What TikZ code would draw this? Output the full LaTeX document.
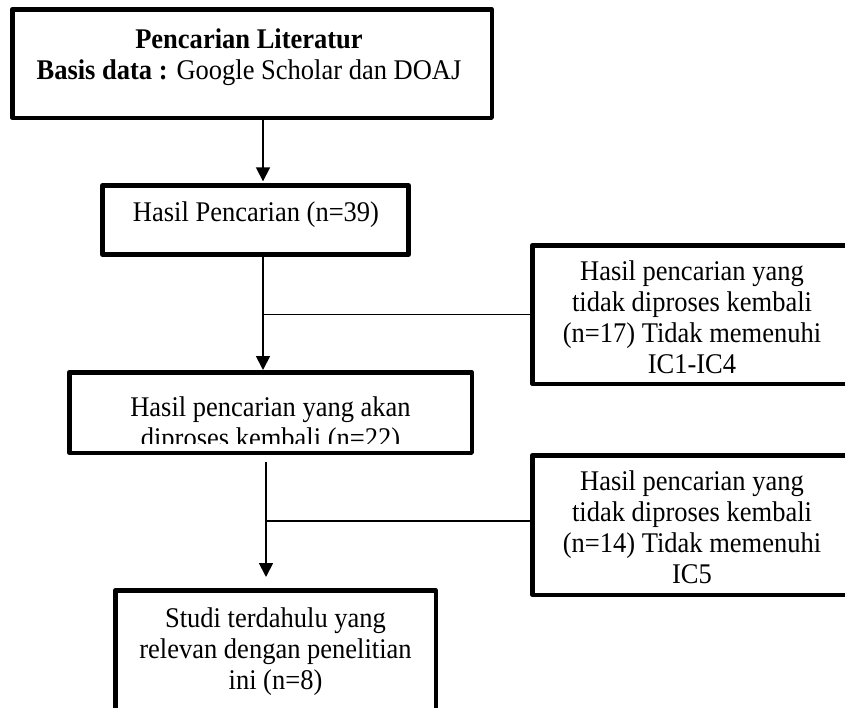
\documentclass[tikz,border=0pt]{standalone}
\usepackage{fontspec}
\setmainfont[FakeStretch=0.93]{Liberation Serif}
\usetikzlibrary{arrows.meta}
\tikzset{
  frame/.style={draw=black, line width=4.5pt, line join=round, inner sep=0pt, rectangle},
  txt/.style={inner sep=0pt, anchor=north, align=center, font=\fontsize{28.5pt}{31pt}\selectfont},
  link/.style={draw=black, line width=1.8pt},
  arrowlink/.style={link, -{Triangle[width=14pt,length=14pt]}}
}
\begin{document}
\begin{tikzpicture}[x=1pt,y=-1pt]
\useasboundingbox (0,0) rectangle (845,707);
\clip (0,0) rectangle (845,707);
\fill[white] (0,0) rectangle (845,707);

% frames
\node[frame, minimum width=479.5pt, minimum height=108.5pt] (b1) at (252,63.5) {};
\node[frame, minimum width=306.2pt, minimum height=68.9pt] (b2) at (255.35,220) {};
\node[frame, minimum width=402.5pt, minimum height=80.5pt] (b3) at (270.5,412.5) {};
\node[frame, minimum width=320.5pt, minimum height=138.5pt] (rb1) at (692.5,314.5) {};
\node[frame, minimum width=320.5pt, minimum height=139.5pt] (rb2) at (692.5,525) {};
\node[frame, minimum width=320.5pt, minimum height=121.5pt] (b4) at (275.5,651) {};

% texts
\node[txt] (t1) at (249,26.3) {\strut\textbf{Pencarian Literatur}\\\strut\textbf{Basis data :} Google Scholar dan DOAJ};
\node[txt] (t2) at (256,199.3) {\strut Hasil Pencarian (n=39)};
\begin{scope}
  \clip (67,370) rectangle (474,443);
  \node[txt] (t3) at (270.5,394.3) {\strut Hasil pencarian yang akan\\\strut diproses kembali (n=22)};
\end{scope}
\node[txt] (t4) at (692,258.3) {\strut Hasil pencarian yang\\\strut tidak diproses kembali\\\strut (n=17) Tidak memenuhi\\\strut IC1-IC4};
\node[txt] (t5) at (692,468.3) {\strut Hasil pencarian yang\\\strut tidak diproses kembali\\\strut (n=14) Tidak memenuhi\\\strut IC5};
\node[txt] (t6) at (275.5,605.3) {\strut Studi terdahulu yang\\\strut relevan dengan penelitian\\\strut ini (n=8)};

% connector reference points
\coordinate (c1) at (263,0);
\coordinate (c2) at (266,0);
\coordinate (j2) at (266,521);

% connectors
\draw[arrowlink, shorten >=2pt] (c1 |- b1.south) -- (c1 |- b2.north);
\draw[arrowlink] (c1 |- b2.south) -- (c1 |- b3.north);
\draw[link] (rb1.west) -- (rb1.west -| c1);
\draw[arrowlink, shorten <=7pt, shorten >=11pt] (c2 |- b3.south) -- (c2 |- b4.north);
\draw[link] (j2 -| rb2.west) -- (j2);
\end{tikzpicture}
\end{document}
